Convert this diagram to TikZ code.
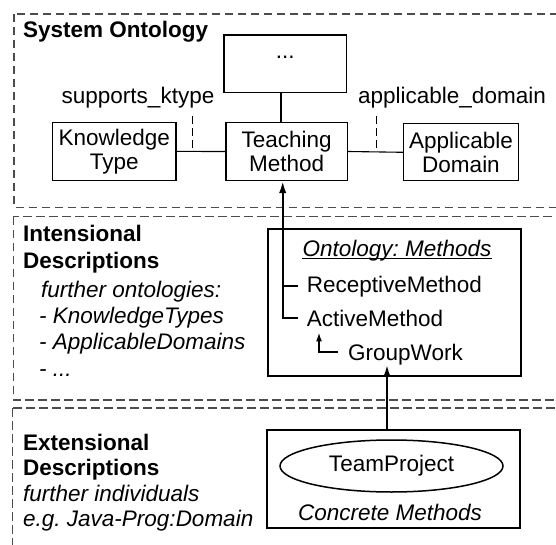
\documentclass[tikz,border=0pt]{standalone}
\usepackage{fontspec}
\setmainfont{Liberation Sans}
\usetikzlibrary{arrows.meta,shapes.geometric,calc}
\frenchspacing

\begin{document}
\begin{tikzpicture}[x=1pt,y=-1pt,
  font=\fontsize{22.5pt}{24pt}\selectfont,
  region/.style={draw=black!70, line width=1.1pt, dash pattern=on 8.5pt off 4.5pt},
  thinbox/.style={draw, line width=1.1pt, align=center, inner sep=0pt},
  thickbox/.style={draw, line width=2pt, inner sep=0pt},
  lbl/.style={anchor=base west, inner sep=0pt},
  heading/.style={lbl, font=\fontsize{22.5pt}{24pt}\selectfont\bfseries},
  note/.style={lbl, font=\fontsize{22.5pt}{24pt}\selectfont\itshape},
  link/.style={line width=1.1pt},
  tick/.style={line width=1.1pt, dash pattern=on 8pt off 4pt},
  stem/.style={line width=2pt},
  isa/.style={line width=2pt, -{Latex[length=12pt,width=7.5pt]}},
  subisa/.style={line width=1.6pt, -{Latex[length=9pt,width=6pt]}},
]
\clip (0,0) rectangle (556,545);

% the three layers
\draw[region] (14,14) rectangle (580,207.5);
\draw[region] (13.5,216.5) rectangle (580,400);
\draw[region] (12.5,408) rectangle (580,560);

% system ontology
\node[heading] (hsys) at (23,38) {System Ontology};
\node[thinbox, minimum width=122.5pt, minimum height=57.3pt, text height=2pt, text depth=12pt] (more) at (285.2,63.7) {...};
\node[thinbox, minimum width=121.5pt, minimum height=58.4pt] (tm) at (286.7,151.5) {Teaching\\Method};
\node[thinbox, minimum width=123.5pt, minimum height=58.5pt] (kt) at (114.2,151.4) {Knowledge\\Type};
\node[thinbox, minimum width=114.6pt, minimum height=56.7pt] (ad) at (461,152.3) {Applicable\\Domain};
\node[anchor=base, inner sep=0pt] (sk) at (138,103.5) {supports\_ktype};
\node[anchor=base, inner sep=0pt] (apd) at (452,103.5) {applicable\_domain};

\draw[link] (kt.east) -- coordinate[pos=0.33] (kj) (tm.west);
\draw[link] (tm.east) -- coordinate[pos=0.52] (aj) (ad.west);
\draw[tick] ($(kj |- sk.south)+(0,8)$) -- (kj);
\draw[tick] ($(aj |- apd.south)+(0,8)$) -- (aj);
\draw[link] ([xshift=-4.2pt]more.south) -- ([xshift=-5.7pt]tm.north);

% intensional descriptions
\node[heading] (hint1) at (23,241) {Intensional};
\node[heading] (hint2) at (23,268) {Descriptions};
\node[note] (n1) at (40.8,297) {further ontologies:};
\node[note] (n2) at (39,323.5) {- KnowledgeTypes};
\node[note] (n3) at (39,349.5) {- ApplicableDomains};
\node[note] (n4) at (39,376) {- ...};

\node[thickbox, minimum width=253.6pt, minimum height=146.5pt] (onto) at (394.5,302.3) {};
\node[anchor=base, inner sep=0pt, font=\fontsize{22.5pt}{24pt}\selectfont\itshape] (otitle) at (397,256) {Ontology: Methods};
\draw[line width=1.2pt] ([yshift=-2.5pt]otitle.base west) -- ([yshift=-2.5pt]otitle.base east);
\node[lbl] (rec) at (306.7,292) {ReceptiveMethod};
\node[lbl] (act) at (306.7,326) {ActiveMethod};
\node[lbl] (gw) at (348,360) {GroupWork};

\coordinate (spine) at ([xshift=-4pt]tm.south);
\draw[isa] ([xshift=-8.7pt]act.west) -| (spine);
\draw[stem] ([xshift=-8.7pt]rec.west) -- (rec.west -| spine);
\draw[subisa] ([xshift=-10pt,yshift=8pt]gw.base west) -| ([xshift=12.3pt,yshift=-6pt]act.south west);

% extensional descriptions
\node[heading] (hext1) at (23,450) {Extensional};
\node[heading] (hext2) at (23,475) {Descriptions};
\node[note] (e1) at (23,501) {further individuals};
\node[note] (e2) at (23,526) {e.g. Java-Prog:Domain};

\node[thickbox, minimum width=253.3pt, minimum height=98pt] (conc) at (393.4,479) {};
\node[draw, ellipse, line width=1.5pt, minimum width=223pt, minimum height=52pt, inner sep=0pt] (tp) at (391.5,466) {TeamProject};
\node[anchor=base, inner sep=0pt, font=\fontsize{22.5pt}{24pt}\selectfont\itshape] (cml) at (390,520.5) {Concrete Methods};

\coordinate (upx) at (387,0);
\draw[isa] (conc.north -| upx) -- (gw.south -| upx);
\end{tikzpicture}
\end{document}
